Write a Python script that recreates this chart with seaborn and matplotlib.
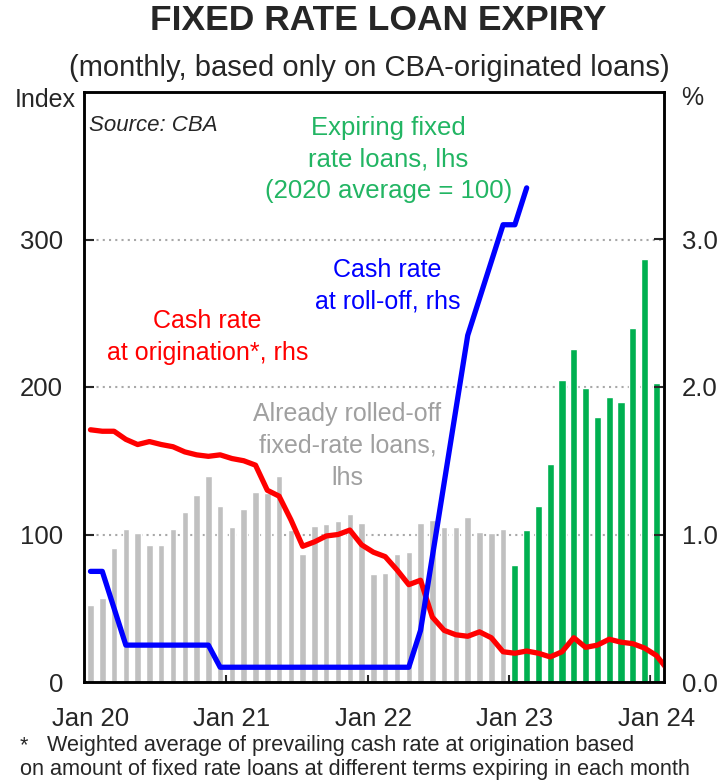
import pandas as pd
import matplotlib.pyplot as plt
import seaborn as sns

# monthly data, Jan 2020 onwards (index 0 = Jan 20)
rolled_off = [52, 57, 91, 104, 101, 93, 93, 104, 115, 127, 140, 119,
              105, 117, 129, 128, 140, 103, 87, 106, 107, 109, 114, 108,
              73, 74, 87, 88, 108, 110, 105, 105, 112, 102, 101, 104]
expiring = [79, 103, 119, 148, 205, 226, 199, 180, 193, 190, 240, 287, 203]

rate_rolloff = [0.75, 0.75, 0.5, 0.25, 0.25, 0.25, 0.25, 0.25, 0.25, 0.25, 0.25,
                0.1, 0.1, 0.1, 0.1, 0.1, 0.1, 0.1, 0.1, 0.1, 0.1, 0.1, 0.1,
                0.1, 0.1, 0.1, 0.1, 0.1, 0.35, 0.85, 1.35, 1.85, 2.35, 2.6,
                2.85, 3.1, 3.1, 3.35]
rate_origination = [1.71, 1.70, 1.70, 1.645, 1.61, 1.63, 1.61, 1.595, 1.56, 1.54,
                    1.53, 1.54, 1.515, 1.50, 1.47, 1.30, 1.26, 1.10, 0.92, 0.95,
                    0.99, 1.0, 1.03, 0.93, 0.88, 0.85, 0.76, 0.66, 0.69, 0.44,
                    0.35, 0.32, 0.31, 0.34, 0.30, 0.205, 0.195, 0.21, 0.195, 0.17,
                    0.205, 0.30, 0.235, 0.25, 0.29, 0.27, 0.26, 0.23, 0.18, 0.08]
year_labels = ["Jan 20", "Jan 21", "Jan 22", "Jan 23", "Jan 24"]

sns.set_theme(style="white")
plt.rcParams["font.family"] = ["Liberation Sans", "DejaVu Sans"]

gray_df = pd.DataFrame({"month": range(len(rolled_off)), "value": rolled_off})
green_df = pd.DataFrame({"month": range(len(rolled_off), len(rolled_off) + len(expiring)),
                         "value": expiring})

fig = plt.figure(figsize=(7.2, 7.82), dpi=100)
ax = fig.add_axes([84 / 720, 1 - 682 / 782, 580 / 720, 590 / 782])

for y in [100, 200, 300]:
    ax.axhline(y, color="#a8a8a8", lw=1.5, ls=(0, (1, 2)), zorder=0)

sns.barplot(data=gray_df, x="month", y="value", color="#c0c0c0", native_scale=True,
            width=0.55, errorbar=None, saturation=1, ax=ax, zorder=2)
sns.barplot(data=green_df, x="month", y="value", color="#00b050", native_scale=True,
            width=0.6, errorbar=None, saturation=1, ax=ax, zorder=2)

ax2 = ax.twinx()
sns.lineplot(x=range(len(rate_origination)), y=rate_origination, color="#ff0000",
             lw=3.8, ax=ax2)
sns.lineplot(x=range(len(rate_rolloff)), y=rate_rolloff, color="#0000ff", lw=3.8, ax=ax2)

ax.set_xlim(-0.55, 48.65)
ax.set_ylim(0, 400)
ax2.set_ylim(0, 4)
ax.set_xlabel("")
ax.set_ylabel("")
ax2.set_ylabel("")

ax.set_yticks([0, 100, 200, 300])
ax.set_yticklabels(["0", "100", "200", "300"])
ax2.set_yticks([0, 1, 2, 3])
ax2.set_yticklabels(["0.0", "1.0", "2.0", "3.0"])
ax.set_xticks([12 * k - 0.5 for k in range(1, 5)])
ax.set_xticklabels([])
ax.set_xticks([12 * k for k in range(5)], minor=True)
ax.set_xticklabels(year_labels, minor=True)

ax.tick_params(axis="x", which="major", direction="in", length=5, width=1.5, bottom=True)
ax.tick_params(axis="x", which="minor", length=0, labelsize=18.5, pad=18)
ax.tick_params(axis="y", direction="in", length=7, width=1.5, labelsize=18.5, pad=15, left=True)
ax2.tick_params(axis="y", direction="in", length=7, width=1.5, labelsize=18.5, pad=13, right=True)

for a in (ax, ax2):
    for s in a.spines.values():
        s.set_color("black")
        s.set_linewidth(1.8)

# annotations (data coords of the left axis)
ax.text(-0.1, 377, "Source: CBA", fontsize=16, style="italic", ha="left", va="center")
ax.text(25.25, 354, "Expiring fixed\nrate loans, lhs\n(2020 average = 100)", color="#22b563",
        fontsize=18.5, ha="center", va="center", linespacing=1.4)
ax.text(25.2, 268.5, "Cash rate\nat roll-off, rhs", color="#0000ff",
        fontsize=18, ha="center", va="center", linespacing=1.4)
ax.text(9.9, 234, "Cash rate\nat origination*, rhs", color="#ff0000",
        fontsize=18, ha="center", va="center", linespacing=1.4)
ax.text(21.8, 160, "Already rolled-off\nfixed-rate loans,\nlhs", color="#a0a0a0",
        fontsize=18, ha="center", va="center", linespacing=1.4)

fig.text(0.526, 1 - 21 / 782, "FIXED RATE LOAN EXPIRY", fontsize=25.5, weight="bold",
         ha="center", va="center")
fig.text(0.513, 1 - 68 / 782, "(monthly, based only on CBA-originated loans)", fontsize=21,
         ha="center", va="center")
fig.text(45 / 720, 1 - 100 / 782, "Index", fontsize=18, ha="center", va="center")
fig.text(692 / 720, 1 - 98 / 782, "%", fontsize=18, ha="center", va="center")
fig.text(20 / 720, 1 - 746 / 782, "*", fontsize=15.6, ha="left", va="center")
fig.text(47 / 720, 1 - 746 / 782, "Weighted average of prevailing cash rate at origination based",
         fontsize=15.6, ha="left", va="center")
fig.text(20 / 720, 1 - 770 / 782,
         "on amount of fixed rate loans at different terms expiring in each month",
         fontsize=15.6, ha="left", va="center")

fig.savefig("out.png", dpi=100)
